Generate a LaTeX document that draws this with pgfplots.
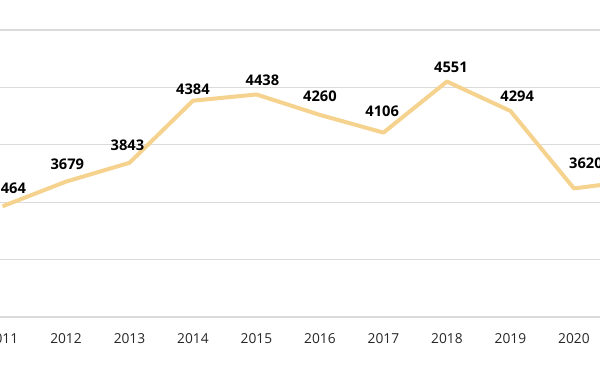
\documentclass[border=0pt]{standalone}
\usepackage{pgfplots}
\pgfplotsset{compat=1.18}
\usepackage{pgfplotstable}
\usepackage{fontspec}
\setmainfont{Open Sans}
\definecolor{lc}{RGB}{245,211,142}
\pgfplotstableread{
year v lab dx dy
2011 3464 3464 5 13.5
2012 3679 3679 1 13
2013 3843 3843 -1.5 13.5
2014 4384 4384 0 8.5
2015 4438 4438 4.5 11
2016 4260 4260 0 14
2017 4106 4106 -1 16
2018 4551 4551 3 11
2019 4294 4294 5 11
2020 3620 3620 9 19
2021 3690 3690 0 13
}\datatab
\begin{document}
\begin{tikzpicture}
\useasboundingbox (0,-41.25pt) rectangle (450pt,237.75pt);
\clip (0,-41.25pt) rectangle (450pt,237.75pt);
\begin{axis}[
  at={(0,0)}, anchor=south west,
  scale only axis, width=450pt, height=237.75pt,
  xmin=2010.961, xmax=2020.41, ymin=2500, ymax=5261,
  axis line style={draw=none},
  ymajorgrids, grid style={gray!28, line width=0.9pt},
  ytick={2500,3000,...,5000}, yticklabels={},
  major tick length=0pt,
  xtick={2011,...,2021},
  /pgf/number format/assume math mode=true,
  /pgf/number format/1000 sep={},
  x tick label style={font=\fontsize{10.3}{12}\selectfont, text=black!85, yshift=-9pt},
  clip=false,
]
\addplot[lc, line width=3pt, line join=round,
  nodes near coords, point meta=explicit symbolic,
  visualization depends on={\thisrow{dx}\as\dx},
  visualization depends on={\thisrow{dy}\as\dy},
  every node near coord/.append style={anchor=center, xshift=\dx pt, yshift=\dy pt, text=black, font=\bfseries\fontsize{11}{13}\selectfont}
] table[x=year, y=v, meta=lab] {\datatab};
\end{axis}
\end{tikzpicture}
\end{document}
